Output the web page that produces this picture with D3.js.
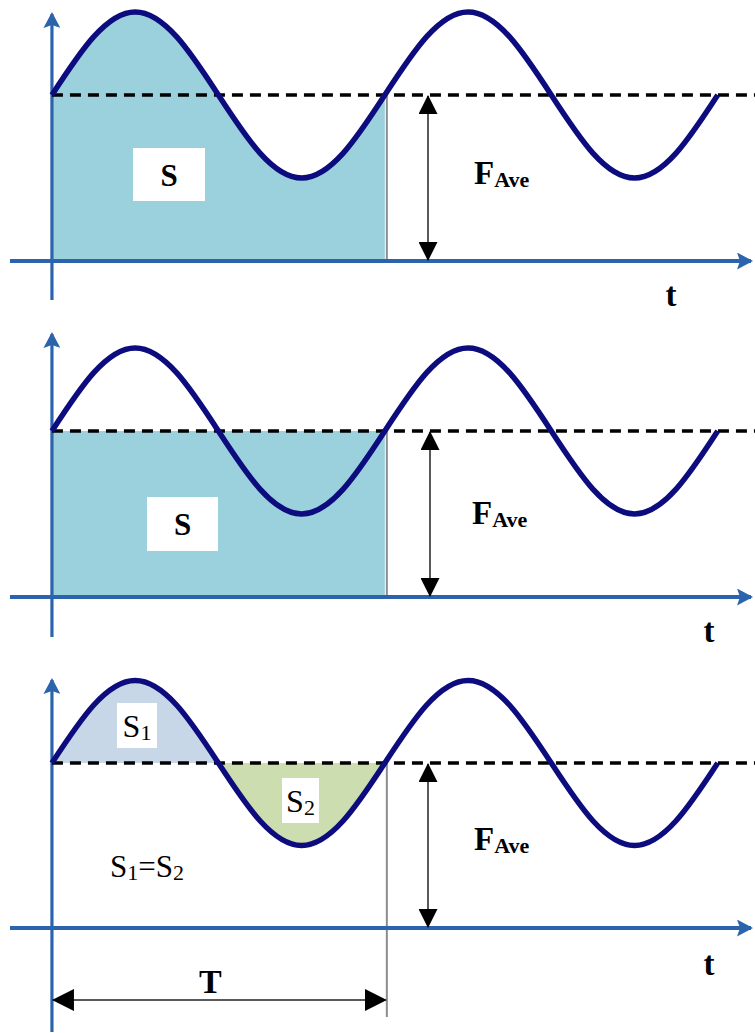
<!DOCTYPE html>
<html>
<head>
<meta charset="utf-8">
<script src="https://cdn.jsdelivr.net/npm/d3@7"></script>
<style>
  html, body { margin: 0; padding: 0; background: #fff; }
  svg { display: block; }
  text { font-family: "Liberation Serif", "Times New Roman", serif; fill: #000; }
</style>
</head>
<body>
<svg id="chart" width="755" height="1033"></svg>
<script>
// Phase positions along the time axis, in units of one period T
const phase = [0, 0.125, 0.25, 0.375, 0.5, 0.625, 0.75, 0.875, 1,
               1.125, 1.25, 1.375, 1.5, 1.625, 1.75, 1.875, 2];
// Signal level at each phase position (average level = 1)
const signal = [1.00, 1.35, 1.50, 1.35, 1.00, 0.65, 0.50, 0.65, 1.00,
                1.35, 1.50, 1.35, 1.00, 0.65, 0.50, 0.65, 1.00];
// Average value and period
const fAve = 1.0;
const period = 1.0;
// Text labels
const axisLabel = "t";
const aveLabel = ["F", "Ave"];
const periodLabel = "T";

const points = phase.map((p, i) => ({ t: p, v: signal[i] }));

const svg = d3.select("#chart");

// Shared horizontal scale (time)
const x = d3.scaleLinear().domain([-0.126, 2.1]).range([10, 751]);

// Panel layout
const panels = [
  { mode: "area",  axisY: 261, unit: 166, yTop: 12,  yBottom: 300,
    tX: 671, tY: 306, arrowX: 428, fX: 474, fY: 184,
    boxes: [{ x0: 133, y0: 148, w: 72, h: 53, main: "S", sub: "" }] },
  { mode: "rect",  axisY: 597, unit: 166, yTop: 332, yBottom: 637,
    tX: 709, tY: 642, arrowX: 430, fX: 472, fY: 524,
    boxes: [{ x0: 147, y0: 497, w: 71, h: 54, main: "S", sub: "" }] },
  { mode: "split", axisY: 928, unit: 165, yTop: 678, yBottom: 1032,
    tX: 709, tY: 975, arrowX: 428, fX: 474, fY: 850,
    boxes: [{ x0: 117, y0: 703, w: 40, h: 45, main: "S", sub: "1" },
            { x0: 282, y0: 778, w: 37, h: 45, main: "S", sub: "2" }] }
];

const colors = {
  axis: "#2C63AD",
  curve: "#0C0C7E",
  fillS: "#9BD0DD",
  fillS1: "#C8D7E8",
  fillS2: "#CCDDAF",
  guide: "#8C8C8C"
};

// Marker definitions
const defs = svg.append("defs");
function marker(id, path, w, h, refX, refY, fill) {
  defs.append("marker")
    .attr("id", id)
    .attr("viewBox", `0 0 ${w} ${h}`)
    .attr("markerUnits", "userSpaceOnUse")
    .attr("markerWidth", w).attr("markerHeight", h)
    .attr("refX", refX).attr("refY", refY)
    .attr("orient", "auto-start-reverse")
    .append("path").attr("d", path).attr("fill", fill);
}
marker("axisHead", "M0,0 L16,8.5 L0,17 L3,8.5 Z", 16, 17, 14, 8.5, colors.axis);
marker("dimHead", "M0,0 L19,9.5 L0,19 Z", 19, 19, 18, 9.5, "#000");
marker("dimHeadT", "M0,0 L22,11 L0,22 Z", 22, 22, 21, 11, "#000");

panels.forEach(p => {
  const y = d3.scaleLinear().domain([0, 1]).range([p.axisY, p.axisY - p.unit]);
  const g = svg.append("g");

  const line = d3.line().x(d => x(d.t)).y(d => y(d.v)).curve(d3.curveNatural);
  const firstPeriod = points.filter(d => d.t <= period);

  // Shaded regions
  if (p.mode === "area") {
    const area = d3.area().x(d => x(d.t)).y0(y(0)).y1(d => y(d.v)).curve(d3.curveNatural);
    g.append("path").attr("d", area(firstPeriod)).attr("fill", colors.fillS);
  } else if (p.mode === "rect") {
    g.append("rect")
      .attr("x", x(0)).attr("y", y(fAve))
      .attr("width", x(period) - x(0)).attr("height", y(0) - y(fAve))
      .attr("fill", colors.fillS);
  } else {
    const band = d3.area().x(d => x(d.t)).y0(y(fAve)).y1(d => y(d.v)).curve(d3.curveNatural);
    g.append("path").attr("d", band(firstPeriod.filter(d => d.t <= period / 2)))
      .attr("fill", colors.fillS1);
    g.append("path").attr("d", band(firstPeriod.filter(d => d.t >= period / 2)))
      .attr("fill", colors.fillS2);
  }

  // Vertical guide at the end of the first period
  g.append("line")
    .attr("x1", x(period) + 2).attr("x2", x(period) + 2)
    .attr("y1", y(fAve))
    .attr("y2", p.mode === "split" ? 1017 : y(0))
    .attr("stroke", colors.guide).attr("stroke-width", 2);

  // Vertical axis
  g.append("line")
    .attr("x1", x(0)).attr("x2", x(0))
    .attr("y1", p.yBottom).attr("y2", p.yTop + 2)
    .attr("stroke", colors.axis).attr("stroke-width", 3.2)
    .attr("marker-end", "url(#axisHead)");

  // Horizontal (time) axis
  g.append("line")
    .attr("x1", x.range()[0]).attr("x2", x.range()[1])
    .attr("y1", y(0)).attr("y2", y(0))
    .attr("stroke", colors.axis).attr("stroke-width", 4)
    .attr("marker-end", "url(#axisHead)");

  // Average level (dashed)
  g.append("line")
    .attr("x1", x(0)).attr("x2", 755)
    .attr("y1", y(fAve)).attr("y2", y(fAve))
    .attr("stroke", "#000").attr("stroke-width", 3.5)
    .attr("stroke-dasharray", "11,7");

  // Signal curve
  g.append("path")
    .attr("d", line(points))
    .attr("fill", "none")
    .attr("stroke", colors.curve)
    .attr("stroke-width", 5.5)
    .attr("stroke-linejoin", "round");

  // Average-level dimension arrow
  g.append("line")
    .attr("x1", p.arrowX).attr("x2", p.arrowX)
    .attr("y1", y(fAve) + 1).attr("y2", y(0) - 1)
    .attr("stroke", "#222").attr("stroke-width", 1.5)
    .attr("marker-start", "url(#dimHead)")
    .attr("marker-end", "url(#dimHead)");

  // F_Ave label
  const ft = g.append("text").attr("x", p.fX).attr("y", p.fY)
    .attr("font-weight", "bold").attr("font-size", 33);
  ft.append("tspan").text(aveLabel[0]);
  ft.append("tspan").attr("font-size", 22).attr("dy", 3).text(aveLabel[1]);

  // Time axis label
  g.append("text").attr("x", p.tX).attr("y", p.tY)
    .attr("text-anchor", "middle")
    .attr("font-weight", "bold").attr("font-size", 33)
    .text(axisLabel);

  // Area labels in white boxes
  p.boxes.forEach(b => {
    g.append("rect").attr("x", b.x0).attr("y", b.y0)
      .attr("width", b.w).attr("height", b.h).attr("fill", "#fff");
    const tx = g.append("text")
      .attr("x", b.x0 + b.w / 2).attr("y", b.y0 + b.h / 2 + 11)
      .attr("text-anchor", "middle")
      .attr("font-size", b.sub ? 32 : 31)
      .attr("font-weight", b.sub ? "normal" : "bold");
    tx.append("tspan").text(b.main);
    if (b.sub) tx.append("tspan").attr("font-size", 22).attr("dy", 3).text(b.sub);
  });

  if (p.mode === "split") {
    // Equality of the two areas
    const eq = g.append("text").attr("x", 110).attr("y", 877).attr("font-size", 31);
    eq.append("tspan").text("S");
    eq.append("tspan").attr("font-size", 22).attr("dy", 3).text("1");
    eq.append("tspan").attr("dy", -3).text("=S");
    eq.append("tspan").attr("font-size", 22).attr("dy", 3).text("2");

    // Period dimension arrow
    g.append("line")
      .attr("x1", x(0) + 1).attr("x2", x(period) + 1)
      .attr("y1", 1000).attr("y2", 1000)
      .attr("stroke", "#222").attr("stroke-width", 1.5)
      .attr("marker-start", "url(#dimHeadT)")
      .attr("marker-end", "url(#dimHeadT)");
    g.append("text").attr("x", x(period / 2) - 8).attr("y", 993)
      .attr("text-anchor", "middle")
      .attr("font-weight", "bold").attr("font-size", 34)
      .text(periodLabel);
  }
});
</script>
</body>
</html>
